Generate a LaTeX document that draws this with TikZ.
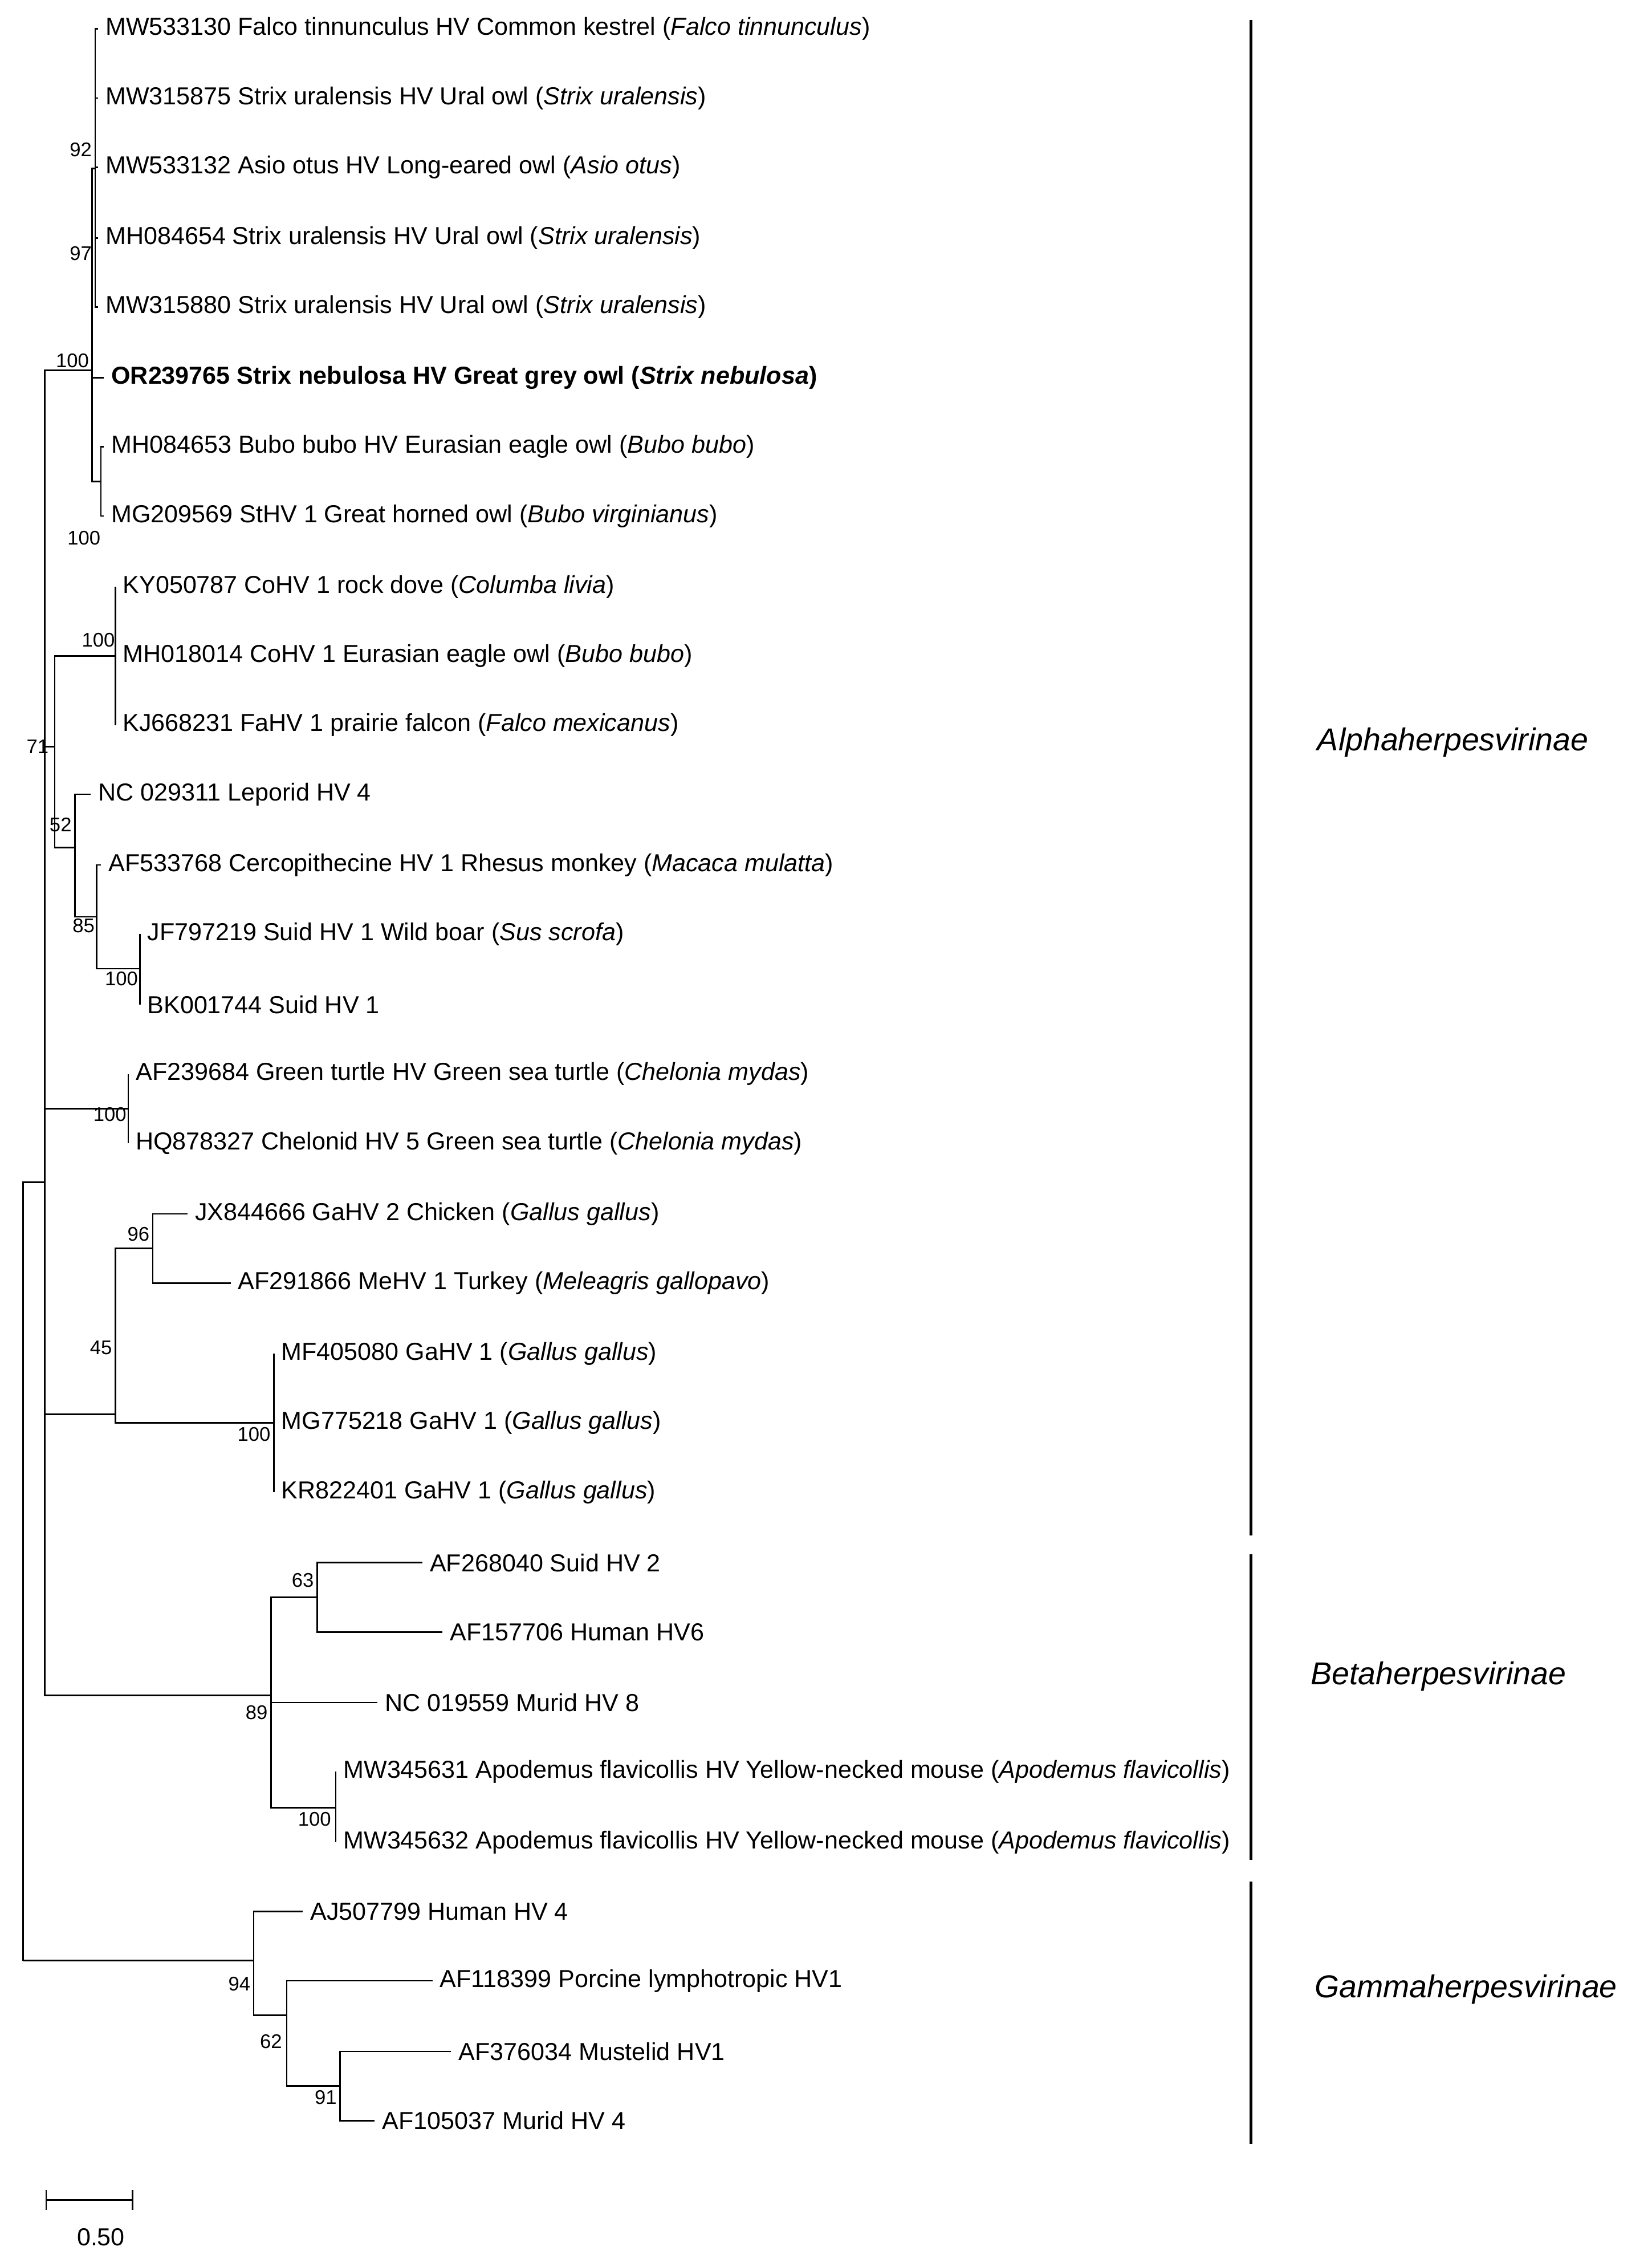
\documentclass[tikz,border=0pt]{standalone}
\usepackage{fontspec}
\setmainfont{Liberation Sans}
\tikzset{
  leaf/.style={anchor=west, inner sep=0.5pt, outer xsep=2.5pt, font=\fontsize{9.7}{11}\selectfont},
  boot/.style={inner sep=0pt, font=\fontsize{7.8}{9}\selectfont},
  br/.style={line width=0.6pt},
  grp/.style={line width=1.2pt},
  sub/.style={font=\fontsize{12.5}{14}\selectfont\itshape}
}
\begin{document}
\begin{tikzpicture}[x=0.02cm, y=-0.02cm]
  \useasboundingbox (0,0) rectangle (1146,1567);

  % leaves
  \node[leaf] (mw533130) at (68,20) {MW533130 Falco tinnunculus HV Common kestrel (\textit{Falco tinnunculus})};
  \node[leaf] (mw315875) at (68,68) {MW315875 Strix uralensis HV Ural owl (\textit{Strix uralensis})};
  \node[leaf] (mw533132) at (68,116) {MW533132 Asio otus HV Long-eared owl (\textit{Asio otus})};
  \node[leaf] (mh084654) at (68,165) {MH084654 Strix uralensis HV Ural owl (\textit{Strix uralensis})};
  \node[leaf] (mw315880) at (68,213) {MW315880 Strix uralensis HV Ural owl (\textit{Strix uralensis})};
  \node[leaf] (or239765) at (72,262) {\bfseries OR239765 Strix nebulosa HV Great grey owl (\textit{Strix nebulosa})};
  \node[leaf] (mh084653) at (72,310) {MH084653 Bubo bubo HV Eurasian eagle owl (\textit{Bubo bubo})};
  \node[leaf] (mg209569) at (72,358) {MG209569 StHV 1 Great horned owl (\textit{Bubo virginianus})};
  \node[leaf] (ky050787) at (80,407) {KY050787 CoHV 1 rock dove (\textit{Columba livia})};
  \node[leaf] (mh018014) at (80,455) {MH018014 CoHV 1 Eurasian eagle owl (\textit{Bubo bubo})};
  \node[leaf] (kj668231) at (80,503) {KJ668231 FaHV 1 prairie falcon (\textit{Falco mexicanus})};
  \node[leaf] (nc029311) at (63,551) {NC 029311 Leporid HV 4};
  \node[leaf] (af533768) at (70,600) {AF533768 Cercopithecine HV 1 Rhesus monkey (\textit{Macaca mulatta})};
  \node[leaf] (jf797219) at (97,648) {JF797219 Suid HV 1 Wild boar (\textit{Sus scrofa})};
  \node[leaf] (bk001744) at (97,697) {BK001744 Suid HV 1};
  \node[leaf] (af239684) at (89,745) {AF239684 Green turtle HV Green sea turtle (\textit{Chelonia mydas})};
  \node[leaf] (hq878327) at (89,793) {HQ878327 Chelonid HV 5 Green sea turtle (\textit{Chelonia mydas})};
  \node[leaf] (jx844666) at (130,842) {JX844666 GaHV 2 Chicken (\textit{Gallus gallus})};
  \node[leaf] (af291866) at (160,890) {AF291866 MeHV 1 Turkey (\textit{Meleagris gallopavo})};
  \node[leaf] (mf405080) at (190,939) {MF405080 GaHV 1 (\textit{Gallus gallus})};
  \node[leaf] (mg775218) at (190,987) {MG775218 GaHV 1 (\textit{Gallus gallus})};
  \node[leaf] (kr822401) at (190,1035) {KR822401 GaHV 1 (\textit{Gallus gallus})};
  \node[leaf] (af268040) at (293,1084) {AF268040 Suid HV 2};
  \node[leaf] (af157706) at (307,1132) {AF157706 Human HV6};
  \node[leaf] (nc019559) at (262,1181) {NC 019559 Murid HV 8};
  \node[leaf] (mw345631) at (233,1229) {MW345631 Apodemus flavicollis HV Yellow-necked mouse (\textit{Apodemus flavicollis})};
  \node[leaf] (mw345632) at (233,1278) {MW345632 Apodemus flavicollis HV Yellow-necked mouse (\textit{Apodemus flavicollis})};
  \node[leaf] (aj507799) at (210,1326) {AJ507799 Human HV 4};
  \node[leaf] (af118399) at (300,1374) {AF118399 Porcine lymphotropic HV1};
  \node[leaf] (af376034) at (313,1423) {AF376034 Mustelid HV1};
  \node[leaf] (af105037) at (260,1471) {AF105037 Murid HV 4};

  % internal nodes
  \coordinate (root) at (16,1360);
  \coordinate (ab) at (31,820);
  \coordinate (owl) at (64,257);
  \coordinate (owla) at (66,117);
  \coordinate (owlb) at (70,334);
  \coordinate (n71) at (38,518);
  \coordinate (coh) at (80,455);
  \coordinate (n52) at (52,588);
  \coordinate (n85) at (67,636);
  \coordinate (suid) at (97,672);
  \coordinate (turt) at (89,769);
  \coordinate (n45) at (80,981);
  \coordinate (n96) at (106,866);
  \coordinate (gah) at (190,987);
  \coordinate (beta) at (188,1176);
  \coordinate (n63) at (220,1108);
  \coordinate (apo) at (233,1254);
  \coordinate (gam) at (176,1360);
  \coordinate (n62) at (199,1398);
  \coordinate (n91) at (236,1447);

  % branches
  \draw[br] (root) |- (ab);
  \draw[br] (root) -- (gam);
  \foreach \c in {owl,n71,turt,n45,beta} \draw[br] (ab) |- (\c);
  \draw[br] (owl) |- (owla);
  \draw[br] (owl) |- (or239765.west);
  \draw[br] (owl) |- (owlb);
  \foreach \l in {mw533130,mw315875,mw533132,mh084654,mw315880} \draw[br] (owla) |- (\l.west);
  \foreach \l in {mh084653,mg209569} \draw[br] (owlb) |- (\l.west);
  \draw[br] (n71) |- (coh);
  \draw[br] (n71) |- (n52);
  \foreach \l in {ky050787,mh018014,kj668231} \draw[br] (coh) |- (\l.west);
  \draw[br] (n52) |- (nc029311.west);
  \draw[br] (n52) |- (n85);
  \draw[br] (n85) |- (af533768.west);
  \draw[br] (n85) |- (suid);
  \foreach \l in {jf797219,bk001744} \draw[br] (suid) |- (\l.west);
  \foreach \l in {af239684,hq878327} \draw[br] (turt) |- (\l.west);
  \draw[br] (n45) |- (n96);
  \draw[br] (n45) |- (gah);
  \foreach \l in {jx844666,af291866} \draw[br] (n96) |- (\l.west);
  \foreach \l in {mf405080,mg775218,kr822401} \draw[br] (gah) |- (\l.west);
  \draw[br] (beta) |- (n63);
  \draw[br] (beta) |- (nc019559.west);
  \draw[br] (beta) |- (apo);
  \foreach \l in {af268040,af157706} \draw[br] (n63) |- (\l.west);
  \foreach \l in {mw345631,mw345632} \draw[br] (apo) |- (\l.west);
  \draw[br] (gam) |- (aj507799.west);
  \draw[br] (gam) |- (n62);
  \draw[br] (n62) |- (af118399.west);
  \draw[br] (n62) |- (n91);
  \foreach \l in {af376034,af105037} \draw[br] (n91) |- (\l.west);

  % bootstrap values
  \node[boot, anchor=east] at (64,104) {92};
  \node[boot, anchor=east] at (64,176) {97};
  \node[boot, anchor=east] at (62,250) {100};
  \node[boot, anchor=east] at (70,373) {100};
  \node[boot, anchor=east] at (80,444) {100};
  \node[boot, anchor=east] at (34,518) {71};
  \node[boot, anchor=east] at (50,572) {52};
  \node[boot, anchor=east] at (66,642) {85};
  \node[boot, anchor=east] at (96,679) {100};
  \node[boot, anchor=east] at (88,773) {100};
  \node[boot, anchor=east] at (104,856) {96};
  \node[boot, anchor=east] at (78,935) {45};
  \node[boot, anchor=east] at (188,995) {100};
  \node[boot, anchor=east] at (218,1096) {63};
  \node[boot, anchor=east] at (186,1188) {89};
  \node[boot, anchor=east] at (230,1262) {100};
  \node[boot, anchor=east] at (174,1376) {94};
  \node[boot, anchor=east] at (196,1416) {62};
  \node[boot, anchor=east] at (234,1455) {91};

  % subfamilies
  \coordinate (alphaT) at (868,14);
  \coordinate (alphaB) at (868,1065);
  \coordinate (betaT) at (868,1078);
  \coordinate (betaB) at (868,1290);
  \coordinate (gammaT) at (868,1305);
  \coordinate (gammaB) at (868,1487);
  \draw[grp] (alphaT) -- (alphaB);
  \draw[grp] (betaT) -- (betaB);
  \draw[grp] (gammaT) -- (gammaB);
  \node[sub] (alpha) at (1008,515) {Alphaherpesvirinae};
  \node[sub] (betah) at (998,1163) {Betaherpesvirinae};
  \node[sub] (gammah) at (1017,1380) {Gammaherpesvirinae};

  % scale bar
  \coordinate (sbl) at (32,1526);
  \coordinate (sbr) at (92,1526);
  \draw[br] (sbl) -- (sbr);
  \draw[br] ([yshift=-4]sbl) -- ([yshift=4]sbl);
  \draw[br] ([yshift=-4]sbr) -- ([yshift=4]sbr);
  \node[boot, font=\fontsize{9.7}{11}\selectfont] (sbt) at (70,1552) {0.50};
\end{tikzpicture}
\end{document}
